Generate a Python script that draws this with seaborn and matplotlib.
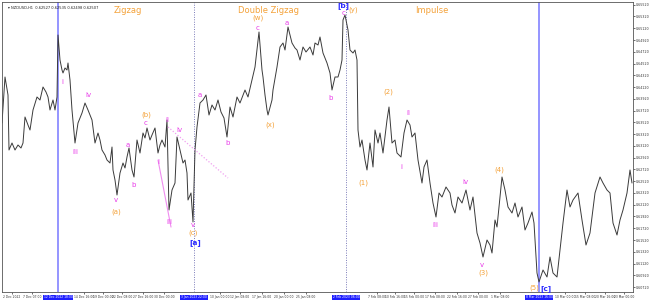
import matplotlib
matplotlib.use("Agg")
import matplotlib.pyplot as plt
import seaborn as sns
import pandas as pd

# ---- data: bar index (time position) and H1 close price ----
bars = [2, 5, 8, 9, 12, 15, 18, 21, 23, 25, 28, 30, 33, 37, 40, 43, 46, 48, 50, 53, 55, 57, 58,
        60, 62, 63, 65, 67, 68, 70, 72, 75, 78, 80, 82, 85, 88, 90, 92, 95, 98, 100, 102, 105, 107,
        110, 112, 113, 115, 117, 120, 123, 125, 127, 129, 132, 134, 137, 140, 143, 145, 147, 150,
        152, 155, 158, 160, 162, 165, 167, 169, 172, 175, 177, 180, 183, 185, 187, 188, 191, 193,
        195, 197, 200, 203, 206, 209, 212, 215, 218, 221, 224, 227, 230, 233, 237, 240, 245, 248,
        252, 255, 259, 262, 263, 265, 267, 268, 272, 273, 277, 280, 283, 285, 288, 292, 295, 297,
        300, 303, 306, 310, 313, 315, 318, 320, 323, 327, 330, 332, 335, 338, 340, 342, 343, 345,
        348, 350, 353, 355, 357, 358, 360, 362, 365, 367, 370, 373, 375, 378, 380, 383, 387, 389,
        392, 395, 397, 401, 404, 407, 410, 412, 415, 418, 422, 424, 427, 430, 433, 436, 439, 442,
        446, 450, 452, 455, 458, 462, 466, 470, 473, 477, 480, 483, 487, 490, 492, 495, 497, 502,
        505, 508, 512, 515, 518, 522, 525, 528, 532, 534, 537, 539, 543, 547, 550, 553, 557, 560,
        563, 567, 570, 573, 578, 582, 586, 590, 595, 600, 603, 607, 610, 613, 617, 620, 623, 627,
        630, 632]
prices = [0.63509, 0.64291, 0.63985, 0.63050, 0.63169, 0.63050, 0.63135, 0.63084, 0.63169, 0.63611,
          0.63475, 0.63390, 0.63730, 0.63951, 0.63900, 0.64121, 0.64036, 0.63951, 0.63730, 0.63900,
          0.63730, 0.63951, 0.65005,
          0.64580, 0.64410, 0.64359, 0.64444, 0.64410, 0.64529, 0.64240, 0.63730, 0.63169, 0.63509,
          0.63594, 0.63679, 0.63849, 0.63730, 0.63645, 0.63560, 0.63169, 0.63339, 0.63220, 0.63050,
          0.62965, 0.62880,
          0.62829, 0.63101, 0.62710, 0.62540, 0.62285, 0.62659, 0.62829, 0.62744, 0.62931, 0.63084,
          0.62710, 0.62591, 0.63220, 0.62999, 0.63339, 0.63254, 0.63424, 0.63220,
          0.63305, 0.63424, 0.62999, 0.63135, 0.63220, 0.63101, 0.63560, 0.62030, 0.62370, 0.62489,
          0.63271, 0.63050, 0.62829, 0.62880, 0.62659, 0.62200, 0.62319, 0.61826,
          0.63050, 0.63441, 0.63849, 0.63900, 0.63985, 0.63645, 0.63815, 0.63730, 0.63900, 0.63696,
          0.63594, 0.63271, 0.63781, 0.63611, 0.63951, 0.63849, 0.64070, 0.63951,
          0.64240, 0.64461, 0.65056, 0.64410, 0.64291, 0.63985, 0.63730, 0.63645, 0.63900, 0.64070,
          0.64461, 0.64801, 0.64869, 0.64750, 0.65141, 0.64869, 0.64784, 0.64750,
          0.64580, 0.64801, 0.64716, 0.64801, 0.64665, 0.64869, 0.64835, 0.64971, 0.64699, 0.64529,
          0.64359, 0.64070, 0.64291, 0.64291, 0.64410, 0.64580, 0.65260, 0.65345,
          0.65090, 0.64750, 0.64699, 0.64750, 0.64580, 0.63390, 0.63101, 0.63220, 0.62880, 0.62710,
          0.63169, 0.62761, 0.63390, 0.63169, 0.63339, 0.62999, 0.63560, 0.63781,
          0.63169, 0.63220, 0.62999, 0.62931, 0.63339, 0.63560, 0.63475, 0.63271, 0.63339, 0.62880,
          0.62489, 0.62761, 0.62880, 0.62489, 0.62149, 0.61911, 0.62319, 0.62251,
          0.62421, 0.62319, 0.62115, 0.61979, 0.62251, 0.62149, 0.62370, 0.62030, 0.62251, 0.61639,
          0.61469, 0.61231, 0.61520, 0.61435, 0.61299, 0.61860, 0.61741, 0.62591,
          0.62370, 0.62081, 0.61979, 0.62149, 0.61911, 0.62081, 0.61690, 0.61809, 0.61996, 0.61809,
          0.60959, 0.60806, 0.61010, 0.60891, 0.61231, 0.60959, 0.60891, 0.61350,
          0.61809, 0.62370, 0.62081, 0.62200, 0.62319, 0.61860, 0.61435, 0.61639, 0.62319, 0.62591,
          0.62489, 0.62370, 0.62319, 0.61809, 0.61605, 0.61860, 0.62030, 0.62319,
          0.62710, 0.62489]

# wave labels: text, bar, price, kind
wave_text = ["i", "iv", "iii", "v", "(a)", "a", "b", "c", "(b)", "ii", "i", "iii", "iv", "v", "(c)", "[a]",
             "a", "b", "(w)", "c", "(x)", "a", "b", "[b]", "c", "(y)",
             "(1)", "(2)", "i", "ii", "iii", "iv", "v", "(3)", "(4)", "(5)", "[c]"]
wave_bar = [62, 88, 75, 116, 116, 128, 134, 146, 146, 167, 158, 169, 179, 193, 193, 195,
            200, 228, 258, 258, 270, 287, 331, 343, 344, 353,
            363, 388, 401, 408, 435, 465, 482, 483, 499, 534, 546]
wave_price = [0.64206, 0.63985, 0.63016, 0.62200, 0.61996, 0.63135, 0.62455, 0.63509, 0.63645, 0.63560,
              0.62846, 0.61826, 0.63390, 0.61775, 0.61639, 0.61469,
              0.63985, 0.63169, 0.65294, 0.65124, 0.63475, 0.65209, 0.63934, 0.65500, 0.65379, 0.65430,
              0.62489, 0.64036, 0.62761, 0.63679, 0.61775, 0.62506, 0.61095, 0.60959, 0.62710,
              0.60700, 0.60700]
wave_kind = ["minor", "minor", "minor", "minor", "inter", "minor", "minor", "minor", "inter", "minor",
             "minor", "minor", "minor", "minor", "inter", "primary",
             "minor", "minor", "inter", "minor", "inter", "minor", "minor", "primary", "minor", "inter",
             "inter", "inter", "minor", "minor", "minor", "minor", "minor", "inter", "inter", "inter",
             "primary"]

titles = ["Zigzag", "Double Zigzag", "Impulse"]
title_bar = [128, 268, 432]
title_price = 0.65430

# vertical markers
vline_bar = [58, 194, 346, 539]
vline_style = ["solid", "dotted", "dotted", "solid"]
vline_date = ["12 Dec 2022 18:00", "3 Jan 2023 22:00", "2 Feb 2023 06:00", "8 Mar 2023 16:00"]

# trend lines (bar, price pairs)
trend_solid_bar = [158, 171]
trend_solid_price = [0.62880, 0.61740]
trend_dot_bar = [168, 228]
trend_dot_price = [0.63441, 0.62574]

# time axis labels
xtick_bar = [12, 32, 84, 103, 122, 143, 164, 220, 240, 262, 284, 306, 377, 395, 414, 435, 457, 478,
             500, 565, 585, 605, 624]
xtick_text = ["2 Dec 2022", "7 Dec 07:00", "14 Dec 16:00", "19 Dec 00:00", "22 Dec 08:00",
              "27 Dec 16:00", "30 Dec 00:00", "10 Jan 00:00", "12 Jan 08:00", "17 Jan 16:00",
              "20 Jan 00:00", "25 Jan 08:00", "7 Feb 08:00", "10 Feb 16:00", "15 Feb 00:00",
              "17 Feb 08:00", "22 Feb 16:00", "27 Feb 00:00", "1 Mar 08:00", "10 Mar 00:00",
              "15 Mar 08:00", "20 Mar 16:00", "23 Mar 00:00"]
ytick_vals = [0.6552 - 0.0020 * k for k in range(25)]

# ---- styling ----
sns.set_theme(style="white")
plt.rcParams["font.family"] = ["DejaVu Sans"]
ORANGE = "#f4a23a"
PINK = "#e83ce8"
BLUE = "#2a2aff"
kind_color = {"minor": PINK, "inter": ORANGE, "primary": BLUE}

fig = plt.figure(figsize=(6.5, 3.04), dpi=100)
ax = fig.add_axes([2 / 650, 12 / 304, 631 / 650, 290 / 304])

df = pd.DataFrame({"bar": bars, "price": prices})
sns.lineplot(data=df, x="bar", y="price", ax=ax, color="#3a3a3a", linewidth=0.7)

ax.set_xlim(2, 633)
ax.set_ylim(0.60636, 0.65566)

for b, st in zip(vline_bar, vline_style):
    if st == "solid":
        ax.axvline(b, color="#8c8cff", linewidth=1.3, zorder=0)
    else:
        ax.axvline(b, color="#7a7ab8", linewidth=0.7, linestyle=(0, (1, 1.5)), zorder=0)

ax.plot(trend_solid_bar, trend_solid_price, color="#f08cf0", linewidth=0.8)
ax.plot(trend_dot_bar, trend_dot_price, color="#f0a0f0", linewidth=0.9, linestyle=(0, (1, 1.5)))

for t, b, p, k in zip(wave_text, wave_bar, wave_price, wave_kind):
    fs = 5.3 if k == "primary" else 5
    ax.text(b, p, t, color=kind_color[k], fontsize=fs, ha="center", va="center", zorder=5,
            fontweight="bold" if k == "primary" else "normal")

for t, b in zip(titles, title_bar):
    ax.text(b, title_price, t, color=ORANGE, fontsize=6, ha="center", va="center")

ax.text(0.01, 0.985, "\u25be NZDUSD,H1  0.62527 0.62535 0.62498 0.62507", transform=ax.transAxes,
        fontsize=2.6, color="#222222", ha="left", va="top")

# axes
ax.set_xlabel("")
ax.set_ylabel("")
ax.yaxis.tick_right()
ax.set_yticks(ytick_vals)
ax.set_yticklabels([f"{v:.5f}" for v in ytick_vals])
ax.set_xticks(xtick_bar)
ax.set_xticklabels(xtick_text)
ax.tick_params(axis="y", labelsize=2.3, length=1.5, width=0.5, pad=0.8, colors="#333333", right=True)
ax.tick_params(axis="x", labelsize=2.2, length=1.5, width=0.5, pad=1, colors="#333333", bottom=True)
for s in ax.spines.values():
    s.set_color("#555555")
    s.set_linewidth(0.6)

for b, d in zip(vline_bar, vline_date):
    ax.text(b, -0.012, d, transform=ax.get_xaxis_transform(), fontsize=2.2, color="white",
            ha="center", va="top",
            bbox=dict(boxstyle="square,pad=0.25", facecolor="#1f1fff", edgecolor="none"))

fig.savefig("out.png", dpi=100)
